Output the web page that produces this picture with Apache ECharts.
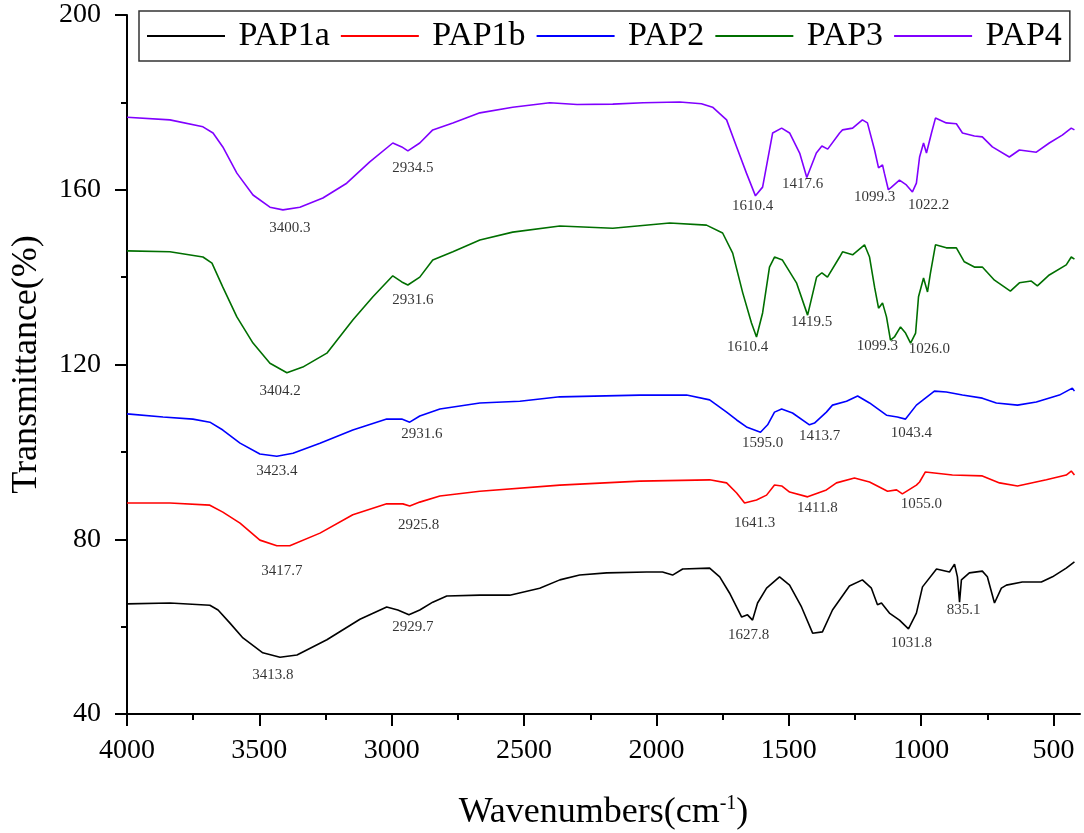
<!DOCTYPE html>
<html>
<head>
<meta charset="utf-8">
<script src="https://cdn.jsdelivr.net/npm/echarts@6.0.0/dist/echarts.min.js"></script>
<style>
html, body { margin: 0; padding: 0; background: #fff; }
#main { width: 1084px; height: 833px; }
</style>
</head>
<body>
<div id="main"></div>
<script>
// wavenumber (cm-1), transmittance (%)
var pap1a = [[4000,65.2],[3838,65.4],[3687,64.9],[3656,63.8],[3611,60.8],[3562,57.4],[3487,54.0],[3422,53.0],[3358,53.5],[3245,57.0],[3120,61.7],[3019,64.5],[2977,63.8],[2935,62.7],[2894,63.8],[2845,65.6],[2792,67.0],[2667,67.2],[2554,67.2],[2441,68.8],[2365,70.7],[2290,71.8],[2188,72.3],[2037,72.5],[1977,72.5],[1939,71.8],[1901,73.2],[1799,73.4],[1761,71.4],[1724,67.7],[1678,62.2],[1656,62.7],[1637,61.5],[1618,65.4],[1584,68.8],[1535,71.4],[1497,69.5],[1452,64.5],[1410,58.5],[1373,58.8],[1335,63.8],[1271,69.3],[1222,70.7],[1188,68.8],[1165,65.0],[1150,65.4],[1120,63.1],[1082,61.5],[1048,59.5],[1018,63.1],[995,69.1],[942,73.2],[893,72.5],[874,74.3],[863,71.4],[855,65.6],[848,70.7],[818,72.3],[769,72.7],[750,71.4],[723,65.4],[697,68.8],[678,69.5],[618,70.2],[546,70.2],[504,71.4],[452,73.4],[421,74.8]];
var pap1b = [[4000,88.3],[3838,88.3],[3687,87.8],[3638,86.2],[3573,83.7],[3498,79.8],[3434,78.5],[3385,78.5],[3271,81.4],[3147,85.6],[3019,88.1],[2958,88.1],[2932,87.6],[2894,88.5],[2818,89.9],[2667,91.0],[2365,92.4],[2063,93.3],[1799,93.6],[1735,92.9],[1697,90.6],[1667,88.3],[1622,89.0],[1584,90.1],[1554,92.4],[1527,92.2],[1497,90.8],[1429,89.7],[1358,91.3],[1320,92.9],[1252,94.0],[1195,93.1],[1127,91.0],[1093,91.3],[1071,90.4],[1018,92.4],[1006,93.1],[984,95.4],[882,94.7],[769,94.5],[704,92.9],[636,92.2],[527,93.6],[452,94.7],[433,95.6],[421,94.7]];
var pap2 = [[4000,108.7],[3864,108.0],[3751,107.5],[3687,106.8],[3638,105.0],[3573,102.0],[3498,99.5],[3434,99.0],[3373,99.7],[3271,102.0],[3147,105.0],[3019,107.5],[2962,107.5],[2932,106.8],[2894,108.2],[2818,109.8],[2667,111.2],[2516,111.6],[2365,112.6],[2063,113.0],[1886,113.0],[1799,111.9],[1735,109.1],[1697,107.3],[1660,105.7],[1607,104.5],[1580,106.2],[1554,109.1],[1527,109.8],[1486,108.9],[1422,106.2],[1403,106.6],[1358,109.1],[1335,110.7],[1282,111.6],[1240,112.8],[1195,111.2],[1131,108.4],[1090,108.0],[1059,107.5],[1018,110.7],[950,113.9],[905,113.7],[844,113.0],[769,112.3],[716,111.2],[636,110.7],[565,111.4],[478,113.0],[429,114.6],[421,113.9]];
var pap3 = [[4000,146.0],[3838,145.8],[3713,144.6],[3679,143.2],[3638,137.7],[3585,130.9],[3524,124.9],[3460,120.3],[3396,118.1],[3336,119.4],[3245,122.6],[3147,130.2],[3071,135.5],[2996,140.3],[2962,138.9],[2939,138.2],[2894,140.0],[2845,143.9],[2769,145.8],[2667,148.5],[2543,150.3],[2365,151.7],[2165,151.2],[1950,152.4],[1811,151.9],[1750,150.1],[1712,145.5],[1674,136.4],[1641,129.5],[1622,126.3],[1599,131.8],[1573,142.3],[1554,144.6],[1524,143.9],[1471,138.7],[1429,131.3],[1395,140.0],[1375,141.0],[1354,140.0],[1308,144.6],[1297,145.8],[1259,145.1],[1214,147.4],[1195,144.6],[1176,137.7],[1161,132.9],[1146,134.1],[1131,130.9],[1116,125.6],[1101,126.3],[1078,128.6],[1059,127.2],[1040,124.9],[1021,127.2],[1010,135.5],[991,139.8],[976,136.6],[965,140.9],[946,147.4],[905,146.7],[867,146.7],[837,143.5],[799,142.3],[769,142.3],[723,139.3],[663,136.8],[629,138.7],[584,139.1],[561,138.0],[516,140.5],[452,142.8],[433,144.6],[421,144.1]];
var pap4 = [[4000,176.6],[3838,176.0],[3713,174.4],[3675,173.0],[3638,169.8],[3585,163.8],[3524,158.8],[3460,156.0],[3411,155.4],[3347,156.0],[3260,158.1],[3170,161.5],[3083,166.4],[2996,170.7],[2962,169.8],[2939,168.9],[2894,170.7],[2845,173.7],[2769,175.3],[2667,177.6],[2543,178.9],[2403,179.9],[2300,179.5],[2165,179.6],[2050,179.9],[1912,180.1],[1830,179.7],[1788,178.9],[1735,176.0],[1697,169.8],[1660,163.8],[1626,158.6],[1599,160.6],[1561,173.0],[1527,174.1],[1497,173.0],[1459,168.4],[1432,162.8],[1396,168.4],[1375,170.0],[1353,169.3],[1308,173.0],[1297,173.7],[1259,174.1],[1222,176.0],[1203,175.3],[1176,169.1],[1161,165.0],[1146,165.7],[1139,163.8],[1124,160.0],[1112,160.6],[1082,162.2],[1056,161.1],[1033,159.5],[1018,161.5],[1006,167.5],[991,170.7],[980,168.4],[961,173.0],[946,176.4],[905,175.3],[867,175.1],[844,173.0],[799,172.3],[769,172.1],[731,169.8],[667,167.5],[629,169.1],[565,168.6],[516,170.7],[467,172.5],[433,174.1],[421,173.7]];

// peak annotations: [wavenumber, transmittance, text]
var peakLabels = [
    [3385,151.2,'3400.3'],[2920,165.0,'2934.5'],[1637,156.3,'1610.4'],[1448,161.3,'1417.6'],[1176,158.3,'1099.3'],[972,156.5,'1022.2'],
    [3422,113.9,'3404.2'],[2920,134.8,'2931.6'],[1656,124.0,'1610.4'],[1414,129.7,'1419.5'],[1165,124.2,'1099.3'],[969,123.5,'1026.0'],
    [3434,95.6,'3423.4'],[2886,104.1,'2931.6'],[1599,102.0,'1595.0'],[1384,103.6,'1413.7'],[1037,104.3,'1043.4'],
    [3415,72.7,'3417.7'],[2898,83.3,'2925.8'],[1629,83.7,'1641.3'],[1392,87.2,'1411.8'],[999,88.1,'1055.0'],
    [3449,49.0,'3413.8'],[2920,60.0,'2929.7'],[1652,58.1,'1627.8'],[1037,56.3,'1031.8'],[840,63.8,'835.1']
];

var seriesNames = ['PAP1a', 'PAP1b', 'PAP2', 'PAP3', 'PAP4'];
var seriesColors = ['#000000', '#ff0000', '#0000ff', '#006f00', '#8000ff'];
var xMajor = [4000, 3500, 3000, 2500, 2000, 1500, 1000, 500];
var xMinor = [3750, 3250, 2750, 2250, 1750, 1250, 750];

var FONT = '"Liberation Serif", "Times New Roman", serif';

var myChart = echarts.init(document.getElementById('main'));

var lines = [pap1a, pap1b, pap2, pap3, pap4].map(function (d, i) {
    return {
        name: seriesNames[i],
        type: 'line',
        data: d,
        symbol: 'none',
        showSymbol: false,
        lineStyle: { color: seriesColors[i], width: 1.6 },
        itemStyle: { color: seriesColors[i] },
        z: 3
    };
});

lines.push({
    name: 'peaks',
    type: 'scatter',
    silent: true,
    symbolSize: 1,
    itemStyle: { color: 'rgba(0,0,0,0)' },
    data: peakLabels.map(function (p) { return { value: [p[0], p[1]], name: p[2] }; }),
    label: {
        show: true,
        position: 'inside',
        formatter: '{b}',
        fontFamily: FONT,
        fontSize: 15,
        color: '#000'
    },
    z: 4
});

var option = {
    animation: false,
    backgroundColor: '#fff',
    grid: { left: 127, right: 4, top: 15, bottom: 119, containLabel: false, outerBoundsMode: 'none' },
    legend: {
        data: seriesNames,
        left: 139,
        top: 11,
        padding: [8, 8],
        itemGap: 11,
        itemWidth: 78,
        itemHeight: 2,
        icon: 'rect',
        borderColor: '#333',
        borderWidth: 1.5,
        formatter: function (n) { return ' ' + n; },
        textStyle: { fontFamily: FONT, fontSize: 34, color: '#000' }
    },
    xAxis: [{
        type: 'value',
        min: 400,
        max: 4000,
        inverse: true,
        name: 'Wavenumbers(cm{sup|-1})',
        nameLocation: 'middle',
        nameGap: 80,
        nameTextStyle: {
            fontFamily: FONT, fontSize: 36, color: '#000',
            rich: { sup: { fontFamily: FONT, fontSize: 20, color: '#000', padding: [0, 0, 18, 0] } }
        },
        axisLine: { show: true, lineStyle: { color: '#000', width: 2 } },
        axisTick: { show: true, customValues: xMajor, length: 12, lineStyle: { color: '#000', width: 2 } },
        axisLabel: {
            customValues: xMajor, fontFamily: FONT, fontSize: 28, color: '#000', margin: 23,
            formatter: function (v) { return String(v); }
        },
        splitLine: { show: false }
    }, {
        type: 'value',
        min: 400,
        max: 4000,
        inverse: true,
        position: 'bottom',
        axisLine: { show: false },
        axisTick: { show: true, customValues: xMinor, length: 6, lineStyle: { color: '#000', width: 2 } },
        axisLabel: { show: false },
        splitLine: { show: false }
    }],
    yAxis: {
        type: 'value',
        min: 40,
        max: 200,
        interval: 40,
        name: 'Transmittance(%)',
        nameLocation: 'middle',
        nameGap: 82,
        nameTextStyle: { fontFamily: FONT, fontSize: 36, color: '#000' },
        axisLine: { show: true, lineStyle: { color: '#000', width: 2 } },
        axisTick: { show: true, length: 12, lineStyle: { color: '#000', width: 2 } },
        minorTick: { show: true, splitNumber: 2, length: 6, lineStyle: { color: '#000', width: 2 } },
        axisLabel: { fontFamily: FONT, fontSize: 28, color: '#000', margin: 26 },
        splitLine: { show: false },
        minorSplitLine: { show: false }
    },
    series: lines
};

myChart.setOption(option);
</script>
</body>
</html>
